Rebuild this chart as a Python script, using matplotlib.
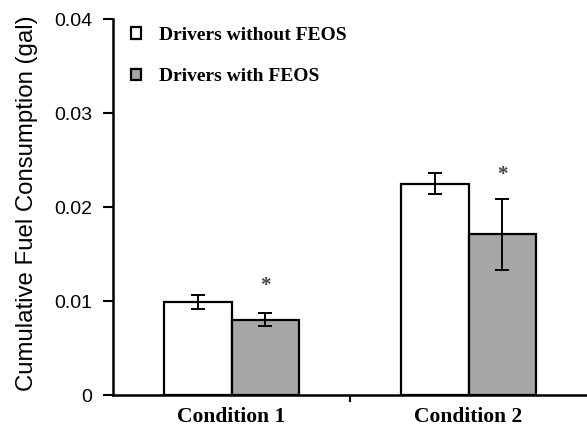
import numpy as np
import matplotlib.pyplot as plt

conditions = ["Condition 1", "Condition 2"]
without_feos = [0.0099, 0.0225]
without_err = [0.0007, 0.0011]
with_feos = [0.0080, 0.0171]
with_err = [0.0007, 0.0038]
star_y = [0.0116, 0.0234]

fig = plt.figure(figsize=(5.87, 4.29), dpi=100)
ax = fig.add_axes([113 / 587, 34 / 429, 474 / 587, 376 / 429])

x = np.arange(1, len(conditions) + 1)
w = 0.285
ax.bar(x - w / 2, without_feos, w, color="white", edgecolor="black", linewidth=1.6,
       yerr=without_err, capsize=5, error_kw=dict(elinewidth=1.4, capthick=1.4),
       label="Drivers without FEOS")
ax.bar(x + w / 2, with_feos, w, color="#a6a6a6", edgecolor="black", linewidth=1.6,
       yerr=with_err, capsize=5, error_kw=dict(elinewidth=1.4, capthick=1.4),
       label="Drivers with FEOS")
for xi, yi in zip(x + w / 2, star_y):
    ax.text(xi, yi, "*", ha="center", va="center", fontsize=15, color="#444444",
            family="Liberation Serif", fontweight="bold")

ax.set_xlim(0.5, 2.5)
ax.set_ylim(0, 0.04)
ax.set_yticks([0, 0.01, 0.02, 0.03, 0.04])
ax.set_yticklabels(["0", "0.01", "0.02", "0.03", "0.04"], family="Liberation Sans", fontsize=14)
ax.set_xticks([1.5])
ax.set_xticklabels([""])
ax.set_xticks(x, minor=True)
ax.set_xticklabels(conditions, minor=True, family="Liberation Serif", fontweight="bold", fontsize=15.5)
ax.tick_params(axis="x", which="minor", length=0, pad=9)
ax.tick_params(axis="x", which="major", length=5, width=1.5)
ax.tick_params(axis="y", length=7, width=1.5, pad=8)

for s in ["top", "right"]:
    ax.spines[s].set_visible(False)
for s in ["left", "bottom"]:
    ax.spines[s].set_linewidth(1.8)

ax.set_ylabel("Cumulative Fuel Consumption (gal)", family="Liberation Sans", fontsize=17.3)
ax.yaxis.set_label_coords(-0.158, 0.51)

ax.legend(loc="upper left", frameon=False, bbox_to_anchor=(0.0, 1.025),
          prop=dict(family="Liberation Serif", weight="bold", size=14),
          handlelength=0.55, handleheight=0.55, handletextpad=0.9, labelspacing=1.25)

fig.savefig("out.png", dpi=100)
